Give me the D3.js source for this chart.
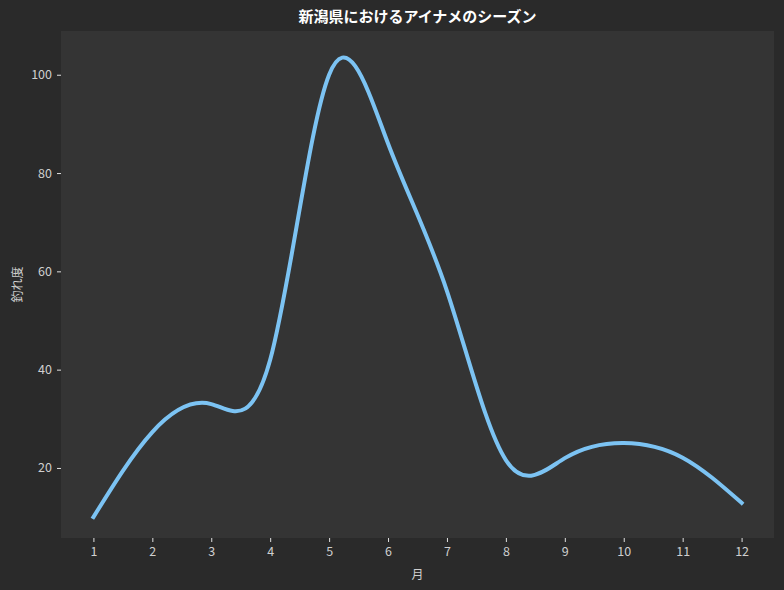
<!DOCTYPE html>
<html>
<head>
<meta charset="utf-8">
<script src="https://cdn.jsdelivr.net/npm/d3@7"></script>
<style>
  body { margin: 0; background: #2a2a2a; }
  text { font-family: "Noto Sans CJK JP", "Noto Sans", sans-serif; }
</style>
</head>
<body>
<div id="chart"></div>
<script>
// 月ごとの釣れ度
const months = [1, 2, 3, 4, 5, 6, 7, 8, 9, 10, 11, 12];
const catchIndex = [10, 27.3, 33, 42, 100, 86, 56, 21.6, 22, 25.1, 22.1, 12.9];
const yTicks = [20, 40, 60, 80, 100];

const title = "新潟県におけるアイナメのシーズン";
const xLabel = "月";
const yLabel = "釣れ度";

function chart() {
    const width = 784;
    const height = 590;
    const margin = {top: 31, right: 10, bottom: 52, left: 61};

    const svg = d3.create("svg")
        .attr("width", width)
        .attr("height", height)
        .attr("viewBox", [0, 0, width, height]);

    svg.append("rect")
        .attr("width", width)
        .attr("height", height)
        .attr("fill", "#2a2a2a");

    const x = d3.scaleLinear()
        .domain([0.45, 12.55])
        .range([margin.left, width - margin.right]);

    const y = d3.scaleLinear()
        .domain([5.75, 108.9])
        .range([height - margin.bottom, margin.top]);

    // plot area
    svg.append("rect")
        .attr("x", margin.left)
        .attr("y", margin.top)
        .attr("width", width - margin.left - margin.right)
        .attr("height", height - margin.top - margin.bottom)
        .attr("fill", "#343434");

    // x axis
    const xAxis = svg.append("g")
        .attr("transform", `translate(0,${height - margin.bottom})`)
        .call(d3.axisBottom(x).tickValues(months).tickSize(4).tickPadding(5).tickFormat(d3.format("d")));
    xAxis.select(".domain").remove();

    // y axis
    const yAxis = svg.append("g")
        .attr("transform", `translate(${margin.left},0)`)
        .call(d3.axisLeft(y).tickValues(yTicks).tickSize(4).tickPadding(5));
    yAxis.select(".domain").remove();

    svg.selectAll(".tick line").attr("stroke", "#e0e0e0").attr("stroke-width", 1);
    svg.selectAll(".tick text")
        .attr("fill", "#cfcfcf")
        .attr("font-size", 12.5)
        .style("font-family", "'Noto Sans CJK JP', sans-serif");

    // curve
    const line = d3.line()
        .x((d, i) => x(months[i]))
        .y(d => y(d))
        .curve(d3.curveNatural);

    svg.append("path")
        .datum(catchIndex)
        .attr("fill", "none")
        .attr("stroke", "#7cc3f3")
        .attr("stroke-width", 4)
        .attr("stroke-linecap", "square")
        .attr("d", line);

    // title and labels
    svg.append("text")
        .attr("x", (margin.left + width - margin.right) / 2)
        .attr("y", 22)
        .attr("text-anchor", "middle")
        .attr("fill", "#ffffff")
        .attr("font-size", 15)
        .attr("font-weight", "bold")
        .text(title);

    svg.append("text")
        .attr("x", (margin.left + width - margin.right) / 2)
        .attr("y", 579)
        .attr("text-anchor", "middle")
        .attr("fill", "#cfcfcf")
        .attr("font-size", 12)
        .text(xLabel);

    svg.append("text")
        .attr("transform", `translate(22,${(margin.top + height - margin.bottom) / 2}) rotate(-90)`)
        .attr("text-anchor", "middle")
        .attr("fill", "#cfcfcf")
        .attr("font-size", 12)
        .text(yLabel);

    return svg.node();
}

d3.select("#chart").append(() => chart());
</script>
</body>
</html>
